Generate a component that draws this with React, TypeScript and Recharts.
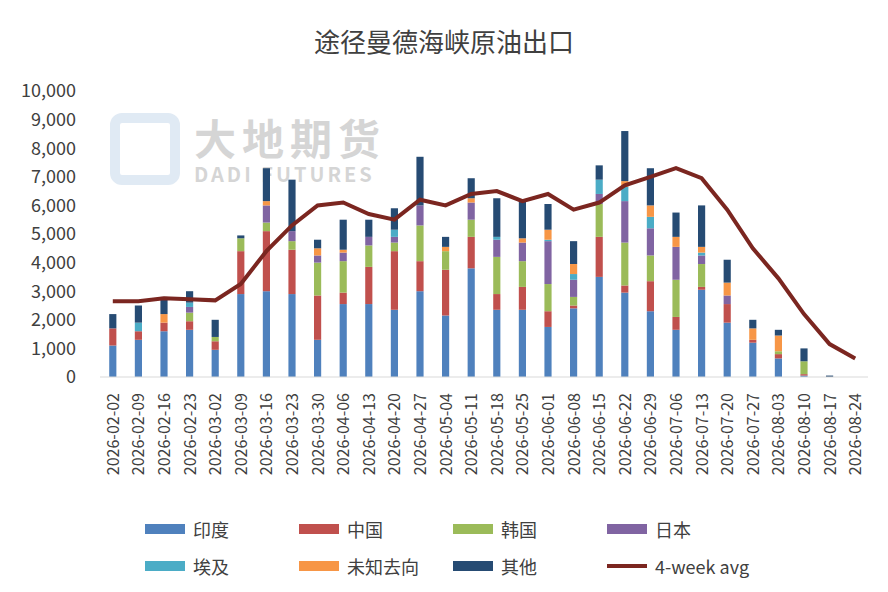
import React from 'react';
import { ComposedChart, Bar, Line, XAxis, YAxis } from 'recharts';

const dates = ['2026-02-02','2026-02-09','2026-02-16','2026-02-23','2026-03-02','2026-03-09','2026-03-16','2026-03-23','2026-03-30','2026-04-06','2026-04-13','2026-04-20','2026-04-27','2026-05-04','2026-05-11','2026-05-18','2026-05-25','2026-06-01','2026-06-08','2026-06-15','2026-06-22','2026-06-29','2026-07-06','2026-07-13','2026-07-20','2026-07-27','2026-08-03','2026-08-10','2026-08-17','2026-08-24'];
const india = [1100,1300,1600,1650,950,2900,3000,2900,1300,2550,2550,2350,3000,2150,3800,2350,2350,1750,2400,3500,2950,2300,1650,3050,1900,1200,650,50,0,0];
const china = [600,300,300,300,300,1500,2100,1550,1550,400,1300,2050,1050,1600,1100,550,800,550,100,1400,250,1050,450,100,650,100,150,50,0,0];
const korea = [0,0,0,300,150,450,300,300,1150,1100,750,300,1250,650,600,1300,900,950,300,1150,1500,900,1300,800,0,0,100,450,0,0];
const japan = [0,0,0,200,0,0,600,350,250,300,300,200,700,0,600,600,650,1500,600,350,1450,950,1150,300,300,0,0,0,0,0];
const egypt = [0,300,0,150,0,0,0,0,0,0,0,250,0,0,0,100,0,50,200,500,500,400,0,100,0,0,0,0,0,0];
const unknown = [0,0,300,0,0,0,150,0,250,100,0,0,0,150,150,0,150,350,350,0,200,400,350,200,450,400,550,0,0,0];
const other = [500,600,600,400,600,100,1150,1800,300,1050,600,750,1700,350,700,1350,1300,900,800,500,1750,1300,850,1450,800,300,200,450,50,0];
const avg = [2650,2650,2750,2720,2680,3250,4400,5300,6000,6100,5700,5500,6200,6000,6400,6500,6150,6400,5850,6100,6700,7000,7300,6950,5850,4500,3450,2200,1150,650];
const yTicks = [0,1000,2000,3000,4000,5000,6000,7000,8000,9000,10000];

const series = [
  { key: 'india', name: '印度', color: '#4f81bd', vals: india },
  { key: 'china', name: '中国', color: '#c0504d', vals: china },
  { key: 'korea', name: '韩国', color: '#9bbb59', vals: korea },
  { key: 'japan', name: '日本', color: '#8064a2', vals: japan },
  { key: 'egypt', name: '埃及', color: '#4bacc6', vals: egypt },
  { key: 'unknown', name: '未知去向', color: '#f79646', vals: unknown },
  { key: 'other', name: '其他', color: '#264b73', vals: other },
];

const data = dates.map((d, i) => {
  const row: any = { date: d, avg: avg[i] };
  series.forEach(s => { row[s.key] = s.vals[i]; });
  return row;
});

const font = '"Microsoft YaHei", "Noto Sans CJK SC", sans-serif';

const XTick = (props: any) => {
  const { x, y, payload } = props;
  return (
    <text x={x + 6} y={y + 8} transform={`rotate(-90 ${x + 6} ${y + 8})`} textAnchor="end" fontSize={16} fill="#404040" fontFamily={font}>{payload.value}</text>
  );
};

const legendItems = [
  ...series.map(s => ({ name: s.name, color: s.color, line: false })),
  { name: '4-week avg', color: '#7b2620', line: true },
];

export default function App() {
  return (
    <div style={{ position: 'fixed', left: 0, top: 0, width: 888, height: 592, background: '#fff', fontFamily: font }}>
      <div style={{ position: 'absolute', top: 22, width: 888, textAlign: 'center', fontSize: 26, color: '#404040' }}>途径曼德海峡原油出口</div>
      <div style={{ position: 'absolute', left: 110, top: 112, display: 'flex', alignItems: 'center', opacity: 0.35 }}>
        <div style={{ width: 70, height: 72, border: '10px solid #a8c4e0', borderRadius: 12, boxSizing: 'border-box' }} />
        <div style={{ marginLeft: 14 }}>
          <div style={{ fontSize: 42, fontWeight: 700, color: '#888', lineHeight: '50px', letterSpacing: 6 }}>大地期货</div>
          <div style={{ fontSize: 20, fontWeight: 700, color: '#888', lineHeight: '24px', letterSpacing: 3 }}>DADI FUTURES</div>
        </div>
      </div>
      <ComposedChart width={888} height={592} data={data} margin={{ top: 91, right: 20, bottom: 100, left: 0 }} barCategoryGap="64%">
        <XAxis dataKey="date" tick={<XTick />} interval={0} height={115} axisLine={{ stroke: '#d9d9d9' }} tickLine={false} />
        <YAxis domain={[0, 10000]} ticks={yTicks} width={100} axisLine={false} tickLine={false} dx={-16}
          tickFormatter={(v: number) => v.toLocaleString('en-US')} tick={{ fontSize: 18, fill: '#404040', fontFamily: font }} />
        {series.map(s => (
          <Bar key={s.key} dataKey={s.key} name={s.name} stackId="a" fill={s.color} isAnimationActive={false} />
        ))}
        <Line dataKey="avg" name="4-week avg" stroke="#7b2620" strokeWidth={4} dot={false} isAnimationActive={false} />
      </ComposedChart>
      {legendItems.map((it, i) => {
        const col = i % 4, row = Math.floor(i / 4);
        const left = 145 + col * 154;
        const top = 516 + row * 37;
        return (
          <div key={it.name} style={{ position: 'absolute', left, top, display: 'flex', alignItems: 'center', fontSize: 18, color: '#404040' }}>
            {it.line
              ? <div style={{ width: 40, height: 4, background: it.color, marginRight: 8 }} />
              : <div style={{ width: 40, height: 10, background: it.color, marginRight: 8 }} />}
            {it.name}
          </div>
        );
      })}
    </div>
  );
}
